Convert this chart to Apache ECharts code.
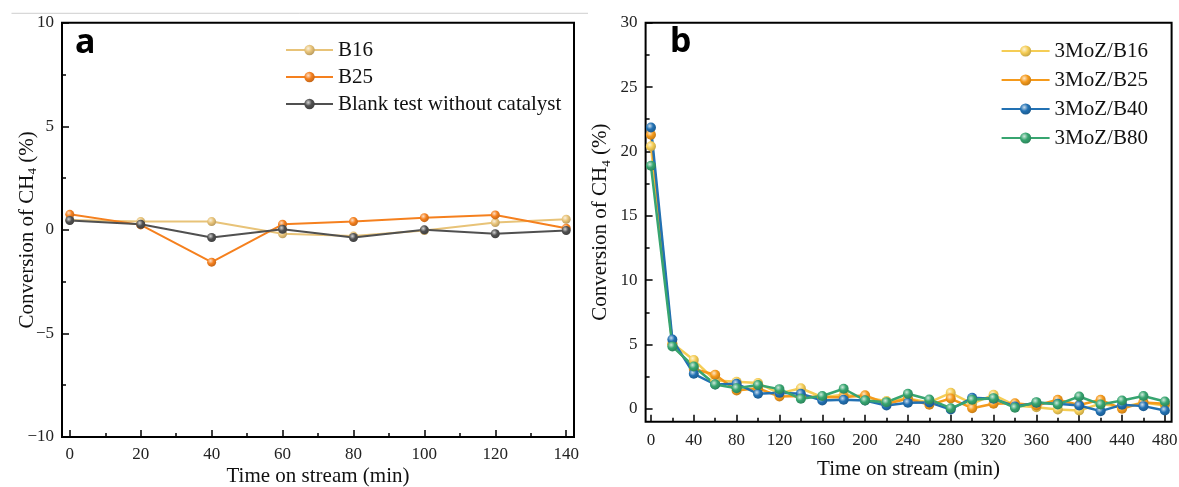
<!DOCTYPE html>
<html>
<head>
<meta charset="utf-8">
<script src="https://cdn.jsdelivr.net/npm/echarts@6/dist/echarts.min.js"></script>
<style>html,body{margin:0;padding:0;background:#fff}#c{width:1179px;height:487px}</style>
</head>
<body>
<div id="c"></div>
<script>
// ---------- Panel a data ----------
var timeA = [0, 20, 40, 60, 80, 100, 120, 140];
var b16 = [0.48, 0.40, 0.40, -0.19, -0.30, -0.03, 0.35, 0.51];
var b25 = [0.75, 0.24, -1.56, 0.27, 0.40, 0.59, 0.72, 0.08];
var blank = [0.45, 0.27, -0.37, 0.03, -0.37, 0.00, -0.19, -0.03];
var xTicksA = [0, 20, 40, 60, 80, 100, 120, 140];
var xMinorA = [10, 30, 50, 70, 90, 110, 130];

// ---------- Panel b data ----------
var timeB = [0, 20, 40, 60, 80, 100, 120, 140, 160, 180, 200, 220, 240, 260, 280, 300, 320, 340, 360, 380, 400, 420, 440, 460, 480];
var moB16 = [20.4, 5.1, 3.8, 2.2, 2.1, 2.0, 1.2, 1.6, 0.9, 1.1, 0.9, 0.6, 0.8, 0.5, 1.24, 0.4, 1.09, 0.26, 0.13, -0.05, -0.13, 0.4, 0.13, 0.5, 0.26];
var moB25 = [21.3, 5.0, 3.1, 2.65, 1.43, 1.6, 0.96, 1.0, 0.9, 0.9, 1.05, 0.4, 0.78, 0.31, 0.8, 0.05, 0.39, 0.44, 0.26, 0.70, 0.3, 0.70, 0.0, 0.5, 0.39];
var moB40 = [21.86, 5.39, 2.72, 1.89, 1.95, 1.17, 1.24, 1.17, 0.65, 0.70, 0.65, 0.26, 0.47, 0.5, -0.05, 0.86, 0.78, 0.18, 0.47, 0.39, 0.26, -0.18, 0.31, 0.21, -0.13];
var moB80 = [18.88, 4.85, 3.29, 1.89, 1.6, 1.85, 1.53, 0.78, 1.0, 1.56, 0.65, 0.52, 1.17, 0.73, 0.05, 0.7, 0.83, 0.08, 0.52, 0.34, 0.96, 0.34, 0.65, 0.99, 0.57];
var xTicksB = [0, 40, 80, 120, 160, 200, 240, 280, 320, 360, 400, 440, 480];
var xMinorB = [20, 60, 100, 140, 180, 220, 260, 300, 340, 380, 420, 460];
var yTicksB = [0, 5, 10, 15, 20, 25, 30];
var yMinorB = [2.5, 7.5, 12.5, 17.5, 22.5, 27.5];

var SERIF = '"Liberation Serif", "Times New Roman", serif';

function pairs(xs, ys) { return xs.map(function (x, i) { return [x, ys[i]]; }); }
function mix(hex, t, target) {
  var n = parseInt(hex.slice(1), 16);
  var r = (n >> 16) & 255, g = (n >> 8) & 255, b = n & 255;
  var tr = target === 'w' ? 255 : 0;
  r = Math.round(r + (tr - r) * t); g = Math.round(g + (tr - g) * t); b = Math.round(b + (tr - b) * t);
  return 'rgb(' + r + ',' + g + ',' + b + ')';
}
function ball(hex) {
  return {
    type: 'radial', x: 0.38, y: 0.35, r: 0.75,
    colorStops: [
      { offset: 0, color: mix(hex, 0.75, 'w') },
      { offset: 0.45, color: hex },
      { offset: 1, color: mix(hex, 0.25, 'k') }
    ]
  };
}
function lineSeries(name, xs, ys, color, xi, yi, size, width) {
  return {
    name: name, type: 'line', xAxisIndex: xi, yAxisIndex: yi,
    data: pairs(xs, ys), symbol: 'circle', symbolSize: size,
    lineStyle: { color: color, width: width },
    itemStyle: { color: ball(color) },
    emphasis: { disabled: true }
  };
}
var minus = function (v) { return String(v).replace('-', '\u2212'); };
var yName = '{t|Conversion of CH}{s|4}{t| (%)}';
var yNameStyle = {
  fontFamily: SERIF, fontSize: 21, color: '#111',
  rich: {
    t: { fontFamily: SERIF, fontSize: 21, lineHeight: 24, color: '#111' },
    s: { fontFamily: SERIF, fontSize: 13, lineHeight: 13, verticalAlign: 'bottom', color: '#111' }
  }
};
var tickStyle = { color: '#000', width: 1.5 };
var noLine = { show: false, onZero: false };

var cA = { b16: '#E8C378', b25: '#F5801E', blank: '#505050' };
var cB = { y: '#F5CD55', o: '#F59A1B', b: '#2271B3', g: '#37A570' };

var chart = echarts.init(document.getElementById('c'), null, { renderer: 'canvas' });
chart.setOption({
  animation: false,
  backgroundColor: '#fff',
  grid: [
    { left: 62, top: 22.7, width: 512, height: 414.3, show: true, borderColor: '#000', borderWidth: 2, outerBoundsMode: 'none' },
    { left: 645.6, top: 22.7, width: 526, height: 399, show: true, borderColor: '#000', borderWidth: 2, outerBoundsMode: 'none' }
  ],
  xAxis: [
    {
      gridIndex: 0, type: 'value', min: -2.2, max: 142.2, position: 'bottom',
      axisLine: noLine, splitLine: { show: false },
      axisTick: { show: true, inside: true, length: 7, customValues: xTicksA, lineStyle: tickStyle },
      axisLabel: { customValues: xTicksA, margin: 9, fontFamily: SERIF, fontSize: 17, color: '#222' },
      name: 'Time on stream (min)', nameLocation: 'middle', nameGap: 29, nameMoveOverlap: false,
      nameTextStyle: { fontFamily: SERIF, fontSize: 21, color: '#111' }
    },
    {
      gridIndex: 0, type: 'value', min: -2.2, max: 142.2, position: 'bottom', offset: 0,
      axisLine: noLine, splitLine: { show: false },
      axisTick: { show: true, inside: true, length: 4, customValues: xMinorA, lineStyle: tickStyle },
      axisLabel: { show: false }
    },
    {
      gridIndex: 1, type: 'value', min: -5, max: 486.3, position: 'bottom',
      axisLine: noLine, splitLine: { show: false },
      axisTick: { show: true, inside: true, length: 7, customValues: xTicksB, lineStyle: tickStyle },
      axisLabel: { customValues: xTicksB, margin: 10, fontFamily: SERIF, fontSize: 17, color: '#222' },
      name: 'Time on stream (min)', nameLocation: 'middle', nameGap: 37, nameMoveOverlap: false,
      nameTextStyle: { fontFamily: SERIF, fontSize: 21, color: '#111' }
    },
    {
      gridIndex: 1, type: 'value', min: -5, max: 486.3, position: 'bottom', offset: 0,
      axisLine: noLine, splitLine: { show: false },
      axisTick: { show: true, inside: true, length: 4, customValues: xMinorB, lineStyle: tickStyle },
      axisLabel: { show: false }
    }
  ],
  yAxis: [
    {
      gridIndex: 0, type: 'value', min: -10, max: 10, interval: 5, position: 'left',
      axisLine: noLine, splitLine: { show: false },
      axisTick: { show: true, inside: true, length: 7, lineStyle: tickStyle },
      minorTick: { show: true, splitNumber: 2, length: 4, lineStyle: tickStyle },
      axisLabel: { margin: 8, fontFamily: SERIF, fontSize: 17, color: '#222', formatter: minus },
      name: yName, nameLocation: 'middle', nameGap: 23, nameRotate: 90, nameMoveOverlap: false, nameTextStyle: yNameStyle
    },
    {
      gridIndex: 1, type: 'value', min: -1, max: 30, position: 'left',
      axisLine: noLine, splitLine: { show: false },
      axisTick: { show: true, inside: true, length: 7, customValues: yTicksB, lineStyle: tickStyle },
      axisLabel: { customValues: yTicksB, margin: 8, fontFamily: SERIF, fontSize: 17, color: '#222' },
      name: yName, nameLocation: 'middle', nameGap: 33, nameRotate: 90, nameMoveOverlap: false, nameTextStyle: yNameStyle
    },
    {
      gridIndex: 1, type: 'value', min: -1, max: 30, position: 'left', offset: 0,
      axisLine: noLine, splitLine: { show: false },
      axisTick: { show: true, inside: true, length: 4, customValues: yMinorB, lineStyle: tickStyle },
      axisLabel: { show: false }
    }
  ],
  legend: [
    {
      data: ['B16', 'B25', 'Blank test without catalyst'],
      orient: 'vertical', left: 285, top: 39.5, padding: 0, itemGap: 6, itemWidth: 47, itemHeight: 13,
      textStyle: { fontFamily: SERIF, fontSize: 21, color: '#111' }, selectedMode: false
    },
    {
      data: ['3MoZ/B16', '3MoZ/B25', '3MoZ/B40', '3MoZ/B80'],
      orient: 'vertical', left: 1000.6, top: 40.5, padding: 0, itemGap: 8, itemWidth: 48, itemHeight: 14,
      textStyle: { fontFamily: SERIF, fontSize: 21, color: '#111' }, selectedMode: false
    }
  ],
  graphic: [
    { type: 'line', shape: { x1: 11.5, y1: 13.3, x2: 588, y2: 13.3 }, style: { stroke: '#cfcfcf', lineWidth: 1 }, silent: true },
    { type: 'text', left: 75, top: 26, style: { text: 'a', font: 'bold 34px "Noto Sans", "Liberation Sans", sans-serif', fill: '#000' }, silent: true },
    { type: 'text', left: 670, top: 25, style: { text: 'b', font: 'bold 34px "Noto Sans", "Liberation Sans", sans-serif', fill: '#000' }, silent: true }
  ],
  series: [
    lineSeries('B16', timeA, b16, cA.b16, 0, 0, 9, 2),
    lineSeries('B25', timeA, b25, cA.b25, 0, 0, 9, 2),
    lineSeries('Blank test without catalyst', timeA, blank, cA.blank, 0, 0, 9, 2),
    lineSeries('3MoZ/B16', timeB, moB16, cB.y, 2, 1, 10, 2.5),
    lineSeries('3MoZ/B25', timeB, moB25, cB.o, 2, 1, 10, 2.5),
    lineSeries('3MoZ/B40', timeB, moB40, cB.b, 2, 1, 10, 2.5),
    lineSeries('3MoZ/B80', timeB, moB80, cB.g, 2, 1, 10, 2.5)
  ]
});
</script>
</body>
</html>
